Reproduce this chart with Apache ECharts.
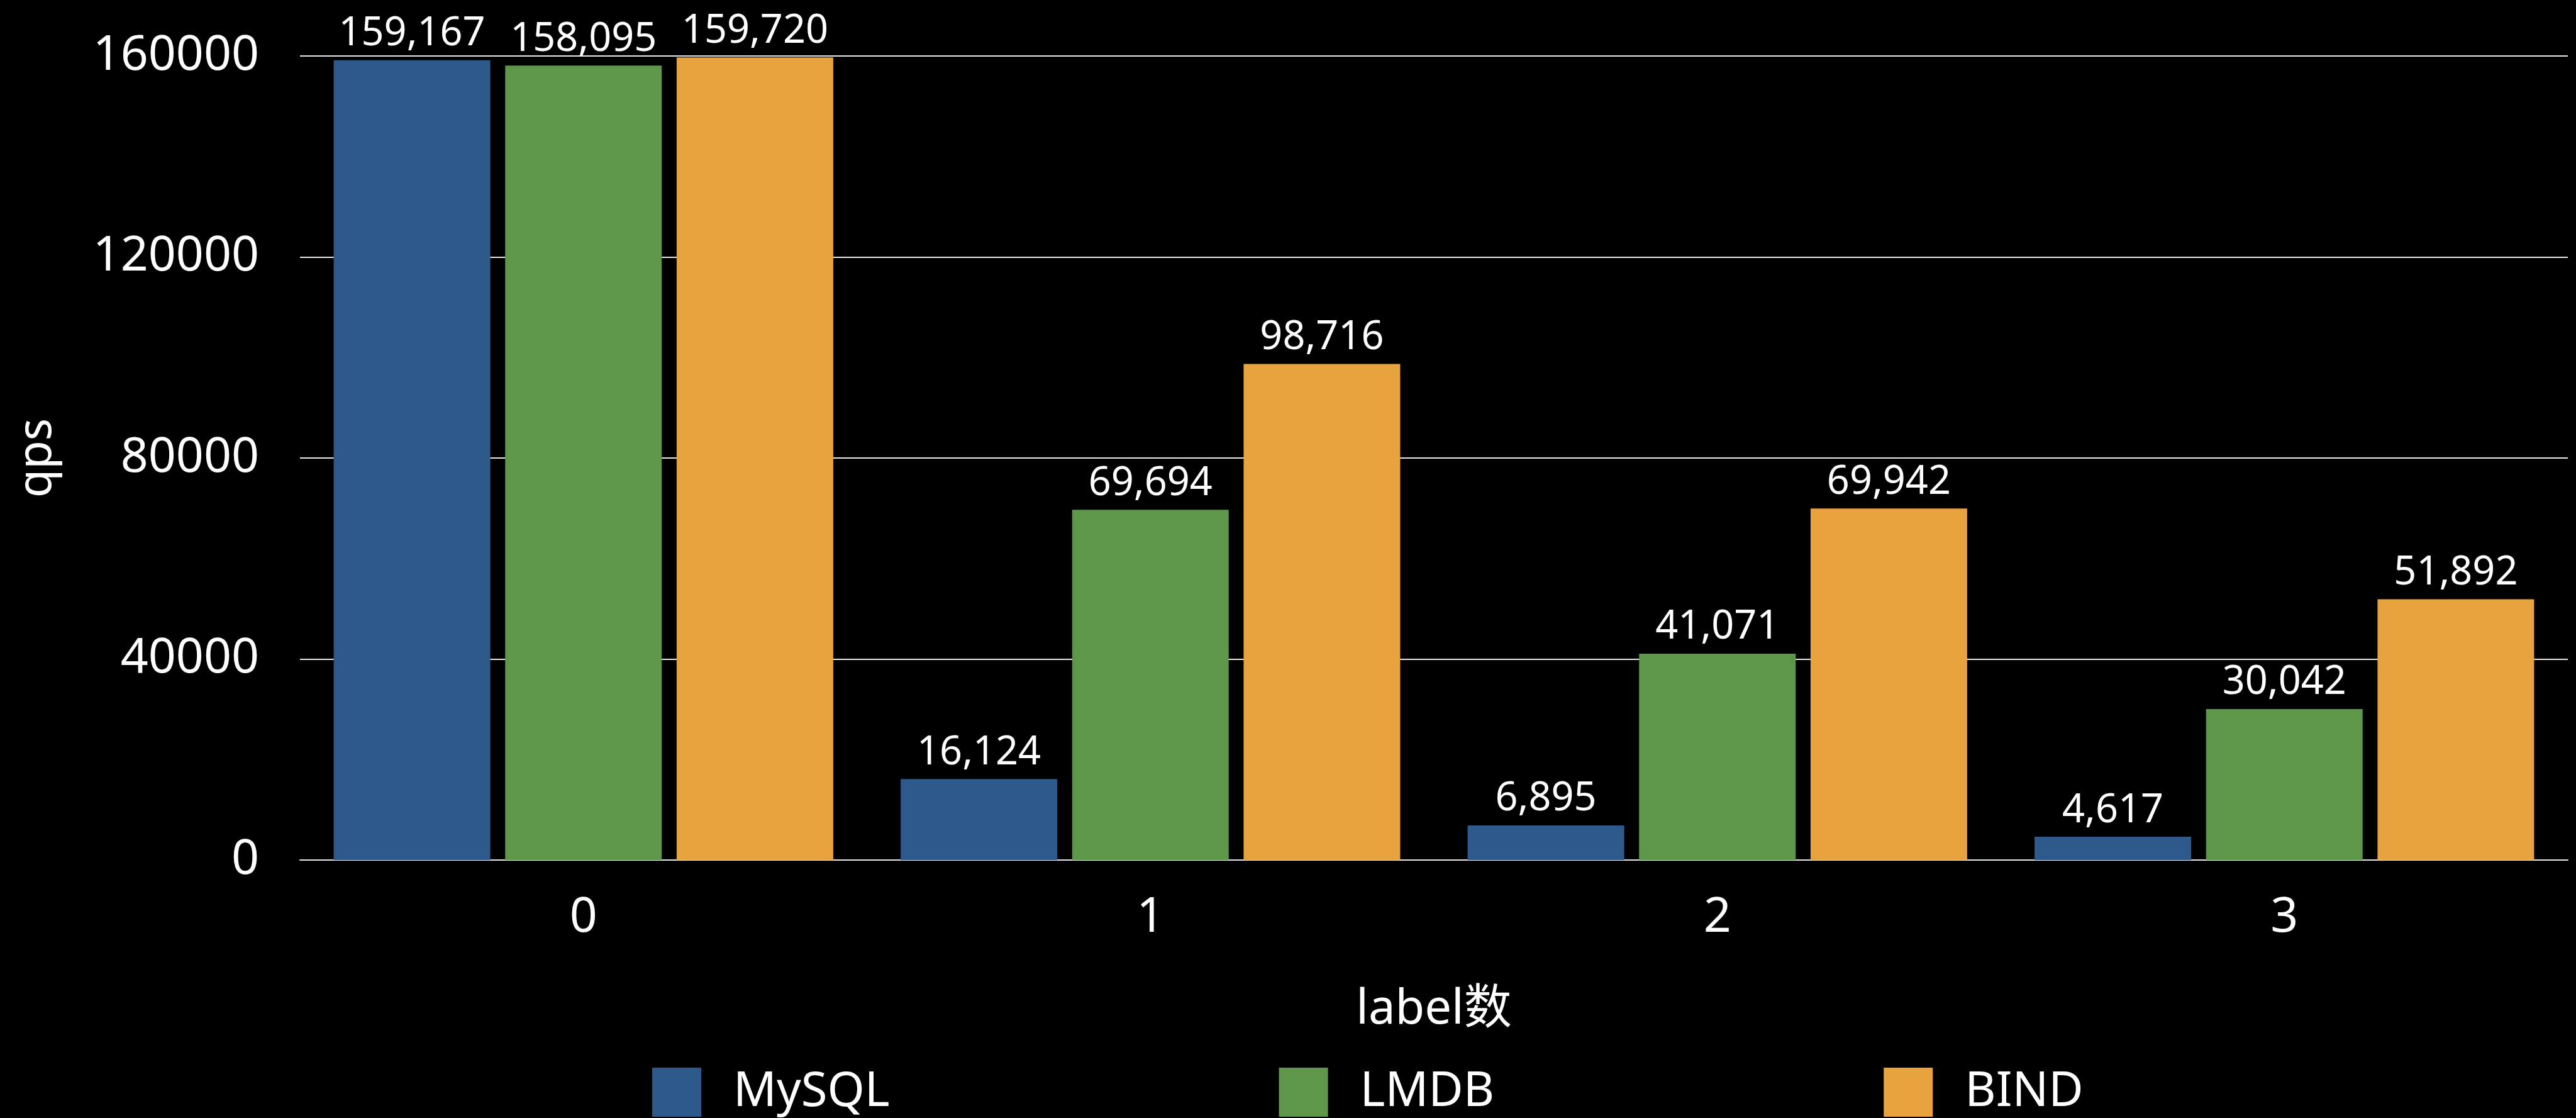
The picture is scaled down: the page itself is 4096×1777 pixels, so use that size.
<!DOCTYPE html>
<html>
<head>
<meta charset="utf-8">
<script src="https://cdn.jsdelivr.net/npm/echarts@6/dist/echarts.min.js"></script>
<style>
html,body{margin:0;padding:0;background:#000;}
#chart{width:4096px;height:1777px;}
</style>
</head>
<body>
<div id="chart"></div>
<script>
const categories = ['0', '1', '2', '3'];
const seriesNames = ['MySQL', 'LMDB', 'BIND'];
const mysqlValues = [159167, 16124, 6895, 4617];
const lmdbValues = [158095, 69694, 41071, 30042];
const bindValues = [159720, 98716, 69942, 51892];
const yTicks = [0, 40000, 80000, 120000, 160000];
const xAxisTitle = 'label数';
const yAxisTitle = 'qps';

const colors = ['#2E5A8B', '#5E964A', '#E7A33E'];
const FONT = '"Noto Sans", "Noto Sans CJK SC", sans-serif';

const chart = echarts.init(document.getElementById('chart'));

function makeSeries(name, data, color) {
  return {
    name: name,
    type: 'bar',
    data: data,
    barWidth: 249,
    barGap: '9.5%',
    itemStyle: { color: color },
    label: {
      show: true,
      position: 'top',
      distance: 10,
      color: '#fff',
      fontFamily: FONT,
      fontSize: 63,
      formatter: p => p.value.toLocaleString('en-US')
    }
  };
}

chart.setOption({
  backgroundColor: '#000',
  animation: false,
  color: colors,
  textStyle: { fontFamily: FONT },
  grid: { left: 477, right: 13, top: 89, bottom: 410, containLabel: false },
  legend: {
    data: seriesNames,
    left: 1037,
    top: 1697,
    padding: 0,
    itemWidth: 78,
    itemHeight: 78,
    itemGap: 619,
    icon: 'rect',
    textStyle: { color: '#fff', fontSize: 76, fontFamily: FONT, padding: [0, 0, 0, 46] }
  },
  xAxis: {
    type: 'category',
    data: categories,
    name: xAxisTitle,
    nameLocation: 'middle',
    nameGap: 200,
    nameTextStyle: { color: '#fff', fontSize: 76, fontFamily: FONT },
    axisLine: { show: true, lineStyle: { color: '#e8e8e8', width: 2 } },
    axisTick: { show: false },
    axisLabel: { color: '#fff', fontSize: 77, fontFamily: FONT, margin: 54 }
  },
  yAxis: {
    type: 'value',
    min: yTicks[0],
    max: yTicks[yTicks.length - 1],
    interval: yTicks[1] - yTicks[0],
    name: yAxisTitle,
    nameLocation: 'middle',
    nameGap: 380,
    nameTextStyle: { color: '#fff', fontSize: 74, fontFamily: FONT },
    axisLine: { show: false },
    axisTick: { show: false },
    splitLine: { show: true, lineStyle: { color: '#e8e8e8', width: 2 } },
    axisLabel: { color: '#fff', fontSize: 77, fontFamily: FONT, margin: 65, formatter: v => String(v) }
  },
  series: [
    makeSeries(seriesNames[0], mysqlValues, colors[0]),
    makeSeries(seriesNames[1], lmdbValues, colors[1]),
    makeSeries(seriesNames[2], bindValues, colors[2])
  ]
});
</script>
</body>
</html>
